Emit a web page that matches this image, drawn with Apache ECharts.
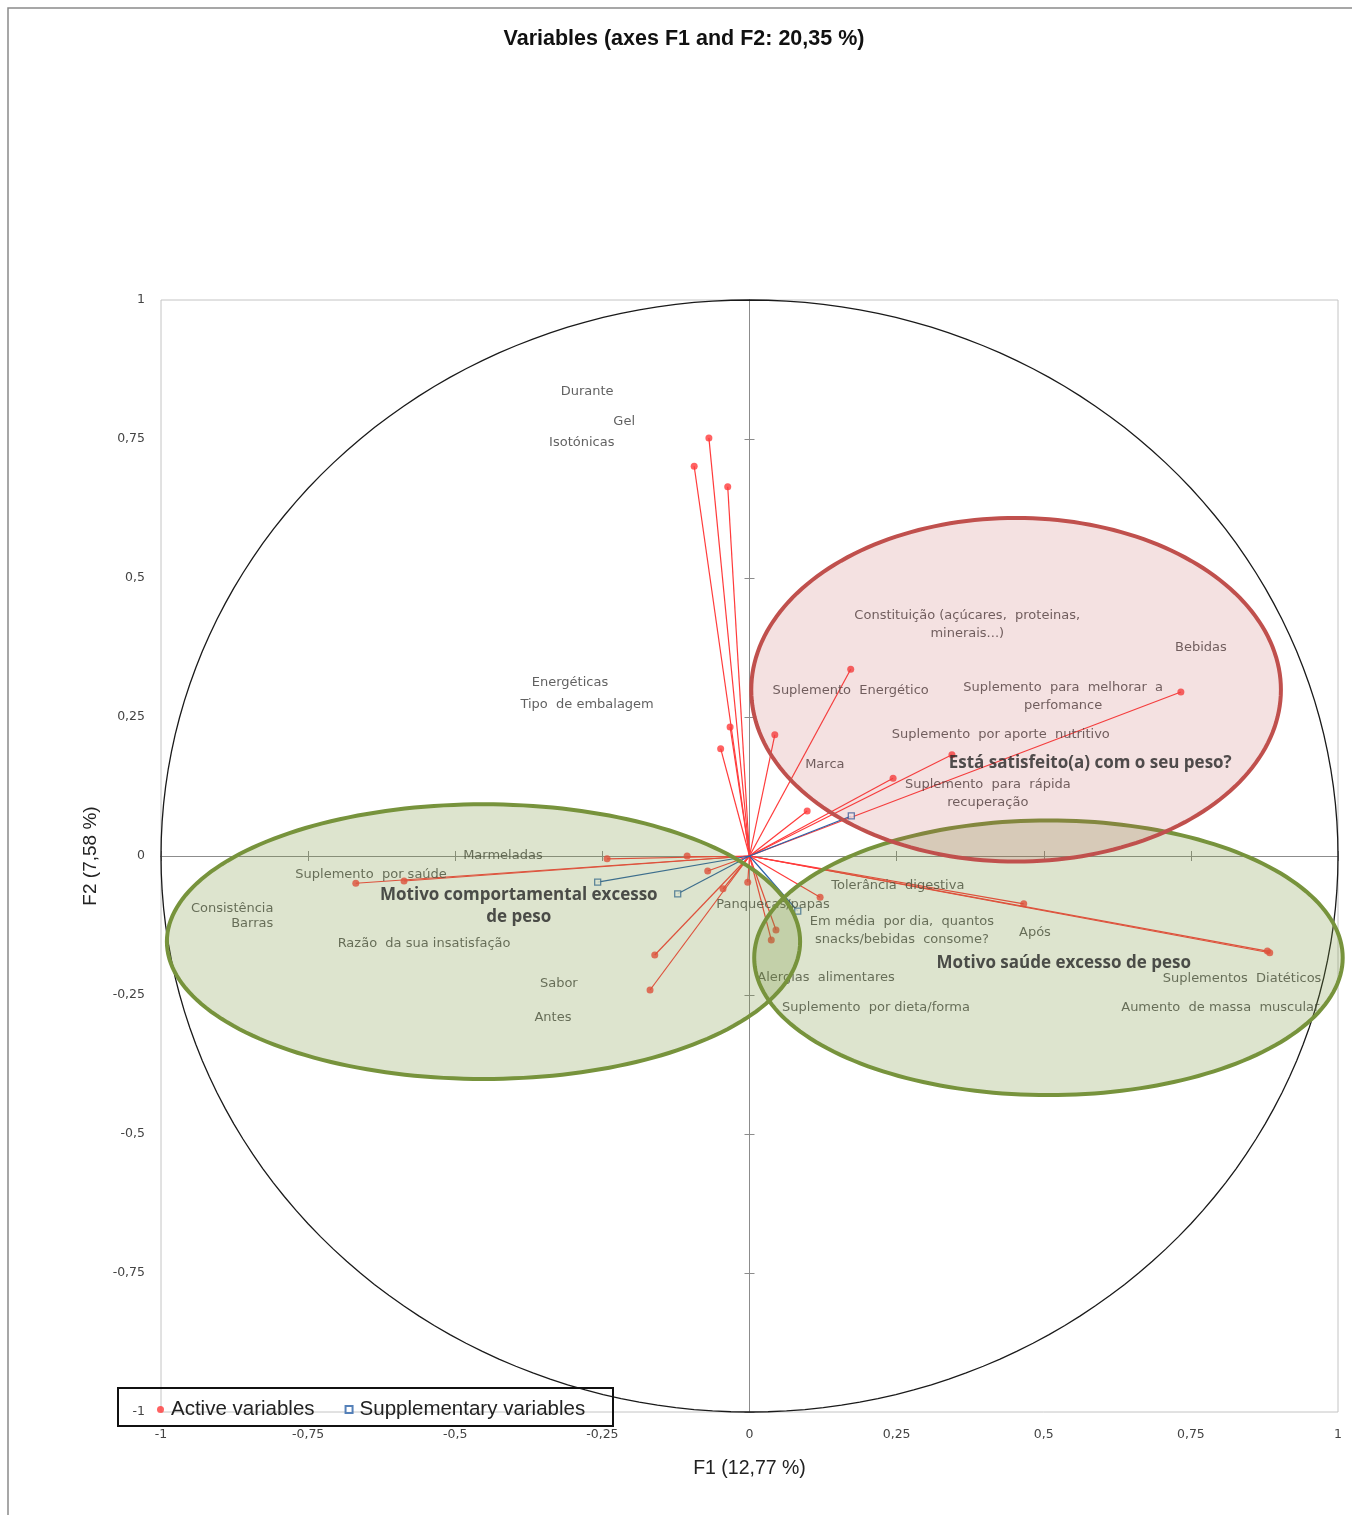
<!DOCTYPE html>
<html>
<head>
<meta charset="utf-8">
<script src="https://cdn.jsdelivr.net/npm/echarts/dist/echarts.min.js"></script>
<style>
html, body { margin: 0; padding: 0; background: #ffffff; }
#chart { width: 1352px; height: 1515px; }
</style>
</head>
<body>
<div id="chart"></div>
<script>
// Active variable loadings on F1 / F2
const activeF1 = [-0.069, -0.094, -0.037, 0.172, -0.033, -0.049, 0.043, 0.098, 0.244, 0.344, 0.733,
                  0.120, 0.466, 0.884, 0.880, 0.045, 0.037, -0.003,
                  -0.669, -0.587, -0.242, -0.106, -0.071, -0.045, -0.161, -0.169];
const activeF2 = [0.752, 0.701, 0.664, 0.336, 0.232, 0.193, 0.218, 0.081, 0.140, 0.182, 0.295,
                  -0.074, -0.086, -0.174, -0.171, -0.133, -0.151, -0.047,
                  -0.049, -0.045, -0.005, 0.000, -0.027, -0.059, -0.178, -0.241];

// Supplementary variable loadings
const suppF1 = [0.173, 0.082, -0.122, -0.258];
const suppF2 = [0.072, -0.099, -0.068, -0.047];

// Variable names and where they are written
const labelNames = [
  'Durante', 'Gel', 'Isotónicas', 'Energéticas', 'Tipo  de embalagem',
  'Constituição (açúcares,  proteinas,\nminerais...)', 'Bebidas', 'Suplemento  Energético',
  'Suplemento  para  melhorar  a\nperfomance', 'Suplemento  por aporte  nutritivo', 'Marca',
  'Suplemento  para  rápida\nrecuperação', 'Marmeladas', 'Suplemento  por saúde',
  'Consistência', 'Barras', 'Razão  da sua insatisfação', 'Sabor', 'Antes',
  'Panquecas/papas', 'Tolerância  digestiva', 'Em média  por dia,  quantos\nsnacks/bebidas  consome?',
  'Após', 'Alergias  alimentares', 'Suplementos  Diatéticos', 'Suplemento  por dieta/forma',
  'Aumento  de massa  muscular'
];
const labelF1 = [-0.276, -0.213, -0.285, -0.305, -0.276,
                 0.370, 0.767, 0.172,
                 0.533, 0.427, 0.128,
                 0.405, -0.419, -0.643,
                 -0.879, -0.845, -0.553, -0.324, -0.334,
                 0.040, 0.252, 0.259,
                 0.485, 0.130, 0.837, 0.215,
                 0.800];
const labelF2 = [0.835, 0.782, 0.743, 0.311, 0.272,
                 0.417, 0.374, 0.297,
                 0.286, 0.219, 0.164,
                 0.113, 0.000, -0.034,
                 -0.095, -0.122, -0.158, -0.230, -0.290,
                 -0.088, -0.054, -0.135,
                 -0.137, -0.218, -0.221, -0.272,
                 -0.272];

// Group headings
const groupNames = ['Está satisfeito(a) com o seu peso?', 'Motivo comportamental excesso\nde peso', 'Motivo saúde excesso de peso'];
const groupF1 = [0.579, -0.392, 0.534];
const groupF2 = [0.167, -0.090, -0.192];

// Group ellipses (centre and semi-axes, in factor units)
const ellipseCx = [-0.452, 0.508, 0.453];
const ellipseCy = [-0.154, -0.183, 0.299];
const ellipseRx = [0.538, 0.500, 0.450];
const ellipseRy = [0.247, 0.247, 0.309];
const ellipseFill = ['rgba(119,147,60,0.25)', 'rgba(119,147,60,0.25)', 'rgba(192,80,77,0.17)'];
const ellipseStroke = ['#77933c', '#77933c', '#c0504d'];

const tickFmt = v => (v === 0 ? '0' : String(v).replace('.', ','));

function ellipsePoints(api, cx, cy, rx, ry) {
  const pts = [];
  const n = 200;
  for (let k = 0; k <= n; k++) {
    const t = (k / n) * 2 * Math.PI;
    pts.push(api.coord([cx + rx * Math.cos(t), cy + ry * Math.sin(t)]));
  }
  return pts;
}

const chart = echarts.init(document.getElementById('chart'), null, { renderer: 'canvas' });

const axisBase = { type: 'value', min: -1, max: 1, interval: 0.25, splitLine: { show: false } };
const tickLabel = { formatter: tickFmt, fontFamily: 'DejaVu Sans', fontSize: 12.5, color: '#444', margin: 16 };

const option = {
  backgroundColor: '#ffffff',
  animation: false,
  title: {
    text: 'Variables (axes F1 and F2: 20,35 %)',
    left: 679, top: 23, textAlign: 'center',
    textStyle: { fontFamily: 'Liberation Sans', fontWeight: 'bold', fontSize: 21.5, color: '#111' }
  },
  legend: {
    left: 152, top: 1394,
    itemWidth: 7, itemHeight: 7, itemGap: 30,
    data: ['Active variables', 'Supplementary variables'],
    textStyle: { fontFamily: 'Liberation Sans', fontSize: 20.5, color: '#222', padding: [0, 0, 0, 2] }
  },
  grid: {
    left: 161, top: 300, width: 1177, height: 1112,
    show: true, borderColor: '#c4c4c4', borderWidth: 1, backgroundColor: 'transparent'
  },
  xAxis: [
    Object.assign({}, axisBase, {
      position: 'bottom',
      name: 'F1 (12,77 %)', nameLocation: 'middle', nameGap: 47,
      nameTextStyle: { fontFamily: 'Liberation Sans', fontSize: 19.5, color: '#222' },
      axisLine: { show: false, onZero: false },
      axisTick: { show: false },
      axisLabel: tickLabel
    }),
    Object.assign({}, axisBase, {
      axisLine: { show: true, onZero: true, lineStyle: { color: '#8c8c8c', width: 1 } },
      axisTick: { show: true, inside: false, length: 5, lineStyle: { color: '#8c8c8c' } },
      axisLabel: { show: false }
    }),
    Object.assign({}, axisBase, {
      axisLine: { show: true, onZero: true, lineStyle: { color: '#8c8c8c', width: 1 } },
      axisTick: { show: true, inside: true, length: 5, lineStyle: { color: '#8c8c8c' } },
      axisLabel: { show: false }
    })
  ],
  yAxis: [
    Object.assign({}, axisBase, {
      position: 'left',
      name: 'F2 (7,58 %)', nameLocation: 'middle', nameGap: 61, nameRotate: 90,
      nameTextStyle: { fontFamily: 'Liberation Sans', fontSize: 19, color: '#222' },
      axisLine: { show: false, onZero: false },
      axisTick: { show: false },
      axisLabel: tickLabel
    }),
    Object.assign({}, axisBase, {
      axisLine: { show: true, onZero: true, lineStyle: { color: '#8c8c8c', width: 1 } },
      axisTick: { show: true, inside: false, length: 5, lineStyle: { color: '#8c8c8c' } },
      axisLabel: { show: false }
    }),
    Object.assign({}, axisBase, {
      axisLine: { show: true, onZero: true, lineStyle: { color: '#8c8c8c', width: 1 } },
      axisTick: { show: true, inside: true, length: 5, lineStyle: { color: '#8c8c8c' } },
      axisLabel: { show: false }
    })
  ],
  graphic: [
    { type: 'polyline', z: 0, shape: { points: [[8, 1515], [8, 8], [1352, 8]] },
      style: { stroke: '#8a8a8a', lineWidth: 1.5, fill: null } },
    { type: 'rect', z: 100, shape: { x: 118, y: 1388, width: 495, height: 38 },
      style: { stroke: '#111', lineWidth: 2, fill: null } }
  ],
  series: [
    {
      // correlation circle
      type: 'custom', name: 'circle', z: 1, silent: true, clip: false,
      data: [[0, 0]],
      renderItem: (params, api) => ({
        type: 'polygon',
        shape: { points: ellipsePoints(api, 0, 0, 1, 1) },
        style: { fill: null, stroke: '#1a1a1a', lineWidth: 1.3 }
      })
    },
    {
      type: 'lines', coordinateSystem: 'cartesian2d', z: 2, silent: true,
      data: activeF1.map((x, i) => ({ coords: [[0, 0], [x, activeF2[i]]] })),
      lineStyle: { color: '#ff3b3b', width: 1.2, opacity: 1 }
    },
    {
      type: 'lines', coordinateSystem: 'cartesian2d', z: 2, silent: true,
      data: suppF1.map((x, i) => ({ coords: [[0, 0], [x, suppF2[i]]] })),
      lineStyle: { color: '#2a62a8', width: 1.2, opacity: 1 }
    },
    {
      name: 'Active variables', type: 'scatter', z: 3,
      symbol: 'circle', symbolSize: 7,
      itemStyle: { color: '#ff3b3b' },
      data: activeF1.map((x, i) => [x, activeF2[i]])
    },
    {
      name: 'Supplementary variables', type: 'scatter', z: 3,
      symbol: 'rect', symbolSize: 6,
      itemStyle: { color: '#ffffff', borderColor: '#2a62a8', borderWidth: 1.3 },
      data: suppF1.map((x, i) => [x, suppF2[i]])
    },
    {
      type: 'scatter', z: 3, symbolSize: 0, silent: true,
      data: labelNames.map((n, i) => ({ name: n, value: [labelF1[i], labelF2[i]] })),
      label: {
        show: true, position: 'inside', formatter: p => p.name,
        fontFamily: 'DejaVu Sans', fontSize: 13, color: '#3a3a3a', align: 'center', lineHeight: 18
      }
    },
    {
      // group ellipses
      type: 'custom', z: 4, silent: true, clip: false,
      data: ellipseCx.map((x, i) => [x, ellipseCy[i]]),
      renderItem: (params, api) => {
        const i = params.dataIndex;
        return {
          type: 'polygon',
          shape: { points: ellipsePoints(api, ellipseCx[i], ellipseCy[i], ellipseRx[i], ellipseRy[i]) },
          style: { fill: ellipseFill[i], stroke: ellipseStroke[i], lineWidth: 4 }
        };
      }
    },
    {
      type: 'scatter', z: 5, symbolSize: 0, silent: true,
      data: groupNames.map((n, i) => ({ name: n, value: [groupF1[i], groupF2[i]] })),
      label: {
        show: true, position: 'inside', formatter: p => p.name,
        fontFamily: 'Open Sans', fontWeight: 'bold', fontSize: 17, color: '#262626',
        align: 'center', lineHeight: 22
      }
    }
  ]
};

chart.setOption(option);
</script>
</body>
</html>
